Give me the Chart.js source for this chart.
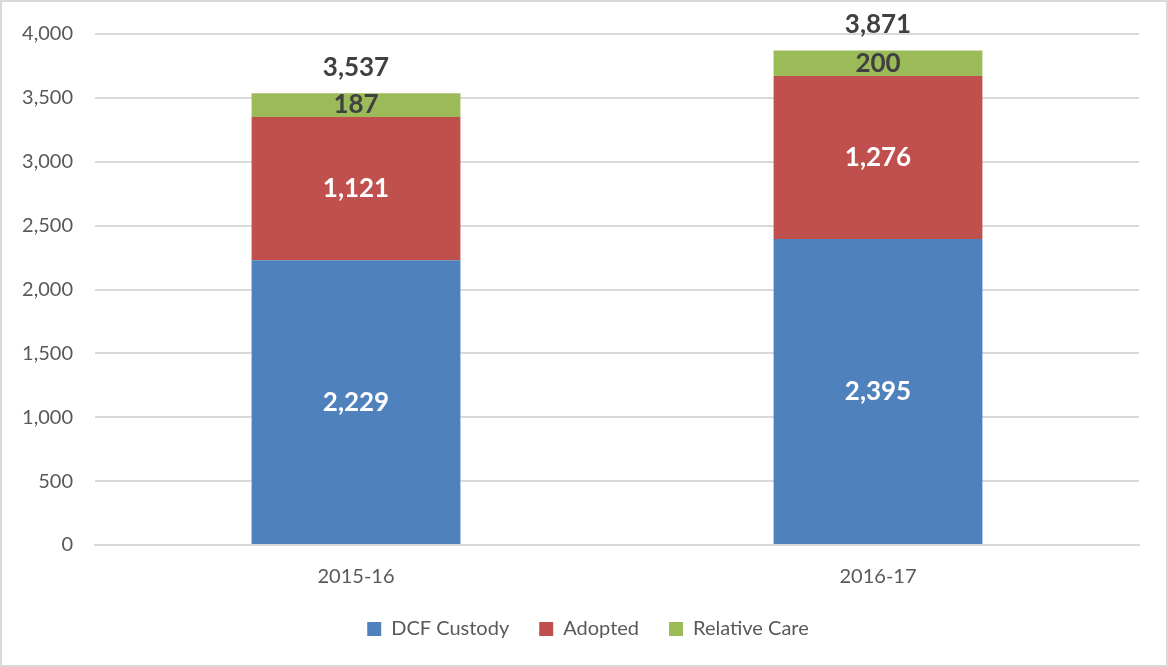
<!DOCTYPE html>
<html>
<head>
<meta charset="utf-8">
<script src="https://cdn.jsdelivr.net/npm/chart.js@4/dist/chart.umd.min.js"></script>
<style>
  html, body { margin: 0; padding: 0; background: #fff; }
  #wrap { width: 1168px; height: 667px; position: relative; }
</style>
</head>
<body>
<div id="wrap"><canvas id="chart" width="1168" height="667"></canvas></div>
<script>
const years = ['2015-16', '2016-17'];
const dcfCustody = [2229, 2395];
const adopted = [1121, 1276];
const relativeCare = [187, 200];
const yTicks = [0, 500, 1000, 1500, 2000, 2500, 3000, 3500, 4000];

const fontFamily = 'Lato, "Noto Sans", sans-serif';
const greyText = '#595959';

// border around the whole picture
const frame = {
    id: 'frame',
    beforeDraw(chart) {
        const c = chart.ctx;
        c.save();
        c.fillStyle = '#fff';
        c.fillRect(0, 0, chart.width, chart.height);
        c.strokeStyle = '#d9d9d9';
        c.lineWidth = 2;
        c.strokeRect(1, 1, chart.width - 2, chart.height - 2);
        c.restore();
    }
};

// legend sits a bit right of the canvas centre in the original
const legendShift = {
    id: 'legendShift',
    afterLayout(chart) {
        chart.legend.left += 37;
    }
};

// value labels in the bars plus totals on top
const barLabels = {
    id: 'barLabels',
    afterDatasetsDraw(chart) {
        const c = chart.ctx;
        c.save();
        c.textAlign = 'center';
        c.textBaseline = 'middle';
        c.font = 'bold 26px ' + fontFamily;
        chart.data.datasets.forEach((ds, i) => {
            chart.getDatasetMeta(i).data.forEach((bar, j) => {
                c.fillStyle = ds.labelColor;
                c.fillText(ds.data[j].toLocaleString('en-US'), bar.x, (bar.y + bar.base) / 2);
            });
        });
        const last = chart.getDatasetMeta(chart.data.datasets.length - 1);
        years.forEach((y, j) => {
            const total = dcfCustody[j] + adopted[j] + relativeCare[j];
            c.fillStyle = '#404040';
            c.fillText(total.toLocaleString('en-US'), last.data[j].x, last.data[j].y - 26);
        });
        c.restore();
    }
};

new Chart(document.getElementById('chart'), {
    type: 'bar',
    data: {
        labels: years,
        datasets: [
            { label: 'DCF Custody', data: dcfCustody, backgroundColor: '#4f81bd', labelColor: '#ffffff' },
            { label: 'Adopted', data: adopted, backgroundColor: '#c0504d', labelColor: '#ffffff' },
            { label: 'Relative Care', data: relativeCare, backgroundColor: '#9bbb59', labelColor: '#404040' }
        ]
    },
    options: {
        responsive: false,
        animation: false,
        datasets: { bar: { categoryPercentage: 1, barPercentage: 0.4 } },
        layout: { padding: { top: 32, right: 29, bottom: 18, left: 0 } },
        plugins: {
            legend: {
                position: 'bottom',
                labels: {
                    font: { family: fontFamily, size: 20 },
                    color: greyText,
                    boxWidth: 14,
                    boxHeight: 14,
                    padding: 30
                }
            },
            tooltip: { enabled: false }
        },
        scales: {
            x: {
                stacked: true,
                grid: { display: false, drawTicks: false },
                border: { color: '#d9d9d9', width: 2 },
                ticks: { font: { family: fontFamily, size: 20 }, color: greyText, padding: 20 },
                afterFit(scale) { scale.height = 44; }
            },
            y: {
                stacked: true,
                min: 0,
                max: 4000,
                afterBuildTicks(scale) { scale.ticks = yTicks.map(v => ({ value: v })); },
                grid: { color: '#d9d9d9', lineWidth: 2, drawTicks: false },
                border: { display: false },
                ticks: { font: { family: fontFamily, size: 20 }, color: greyText, padding: 22 },
                afterFit(scale) { scale.width = 95; }
            }
        }
    },
    plugins: [frame, legendShift, barLabels]
});
</script>
</body>
</html>
